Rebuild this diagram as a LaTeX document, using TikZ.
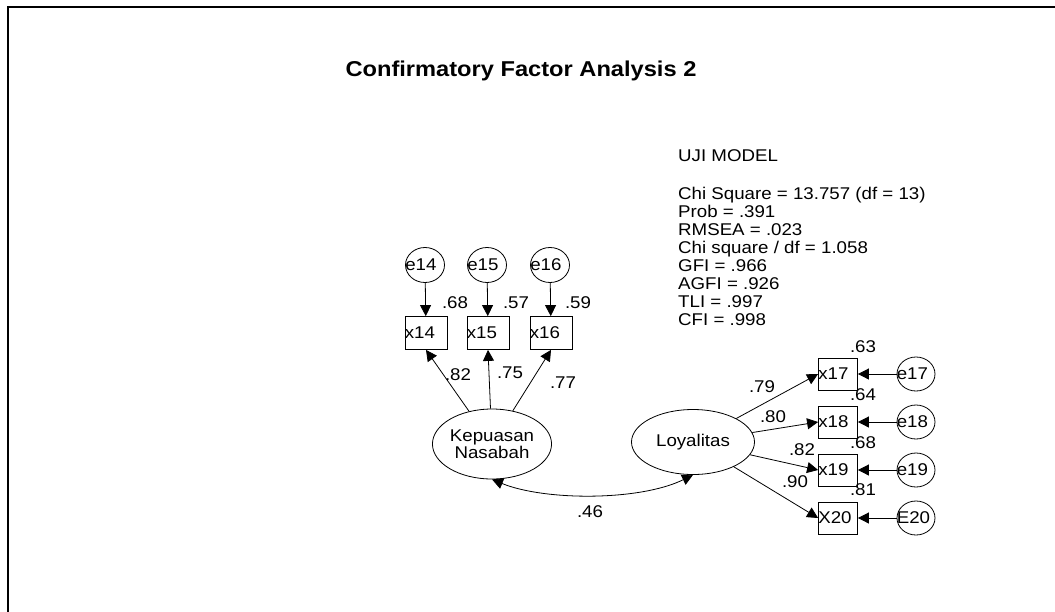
\documentclass[tikz,border=0pt]{standalone}
\usepackage{fontspec}
\setmainfont[FakeStretch=1.1]{Liberation Sans}
\usetikzlibrary{arrows.meta,positioning,shapes.geometric}

\begin{document}
\begin{tikzpicture}[
  x=1pt,y=-1pt,
  font=\fontsize{17}{17}\selectfont,
  obs/.style={draw,rectangle,minimum width=42pt,minimum height=33pt,inner sep=0pt,line width=0.8pt},
  err/.style={draw,ellipse,minimum width=39pt,minimum height=35pt,inner sep=0pt,line width=0.8pt},
  lat/.style={draw,ellipse,align=center,inner sep=0pt,line width=0.8pt},
  txt/.style={label={[anchor=west,inner sep=0pt]west:#1}},
  lbl/.style={inner sep=0pt},
  reg/.style={-{Triangle[length=11pt,width=11pt]},line width=0.8pt},
  cov/.style={{Triangle[length=11pt,width=11pt]}-{Triangle[length=11pt,width=11pt]},line width=0.8pt}
]
\useasboundingbox (0,0) rectangle (1055,611);
\draw[line width=2pt] (1065,7) -- (8,7) -- (8,620);

\node[lbl,font=\fontsize{21.5}{21.5}\selectfont\bfseries,anchor=base] (title) at (521,76) {Confirmatory Factor Analysis 2};
\node[lbl,anchor=north west,align=left,font=\fontsize{17}{18}\selectfont] (fit) at (678,149)
  {UJI MODEL\\[20pt]
   Chi Square = 13.757 (df = 13)\\
   Prob = .391\\
   RMSEA = .023\\
   Chi square / df = 1.058\\
   GFI = .966\\
   AGFI = .926\\
   TLI = .997\\
   CFI = .998};

% Kepuasan Nasabah
\node[err,txt=e14] (e14) at (425,265) {};
\node[err,txt=e15] (e15) at (487,265) {};
\node[err,txt=e16] (e16) at (550,265) {};
\node[obs,txt=x14] (x14) at (426,333) {};
\node[obs,txt=x15] (x15) at (488,333) {};
\node[obs,txt=x16] (x16) at (551,333) {};
\node[lat,minimum width=119pt,minimum height=70pt] (kep) at (492,444) {Kepuasan\\Nasabah};

\draw[reg] (e14) -- (x14);
\draw[reg] (e15) -- (x15);
\draw[reg] (e16) -- (x16);
\draw[reg] (kep) -- (x14.south);
\draw[reg] (kep) -- (x15.south);
\draw[reg] (kep) -- (x16.south);
\node[lbl] (r14) at (455,303) {.68};
\node[lbl] (r15) at (516,303) {.57};
\node[lbl] (r16) at (578,303) {.59};
\node[lbl] (l14) at (458,375) {.82};
\node[lbl] (l15) at (510,373) {.75};
\node[lbl] (l16) at (563,383) {.77};

% Loyalitas
\node[lat,minimum width=123pt,minimum height=65pt] (loy) at (693,442) {Loyalitas};
\node[obs,minimum width=39pt,minimum height=32pt,txt=x17] (x17) at (838,374) {};
\node[obs,minimum width=39pt,minimum height=32pt,txt=x18] (x18) at (838,422) {};
\node[obs,minimum width=39pt,minimum height=32pt,txt=x19] (x19) at (838,470) {};
\node[obs,minimum width=39pt,minimum height=32pt,txt=X20] (x20) at (838,518) {};
\node[err,minimum width=38pt,minimum height=34pt,txt=e17] (e17) at (916,374) {};
\node[err,minimum width=38pt,minimum height=34pt,txt=e18] (e18) at (916,422) {};
\node[err,minimum width=38pt,minimum height=34pt,txt=e19] (e19) at (916,470) {};
\node[err,minimum width=38pt,minimum height=34pt,txt=E20] (e20) at (916,518) {};

\draw[reg] (loy) -- (x17.west);
\draw[reg] (loy) -- (x18.west);
\draw[reg] (loy) -- (x19.west);
\draw[reg] (loy) -- (x20.west);
\draw[reg] (e17) -- (x17);
\draw[reg] (e18) -- (x18);
\draw[reg] (e19) -- (x19);
\draw[reg] (e20) -- (x20);
\node[lbl] (r17) at (863,347) {.63};
\node[lbl] (r18) at (863,395) {.64};
\node[lbl] (r19) at (863,443) {.68};
\node[lbl] (r20) at (863,490) {.81};
\node[lbl] (l17) at (762,387) {.79};
\node[lbl] (l18) at (773,417) {.80};
\node[lbl] (l19) at (802,450) {.82};
\node[lbl] (l20) at (795,482) {.90};

\draw[cov] (kep.south) .. controls (545,501) and (640,501) .. (loy.south);
\node[lbl] (c46) at (590,512) {.46};
\end{tikzpicture}
\end{document}
